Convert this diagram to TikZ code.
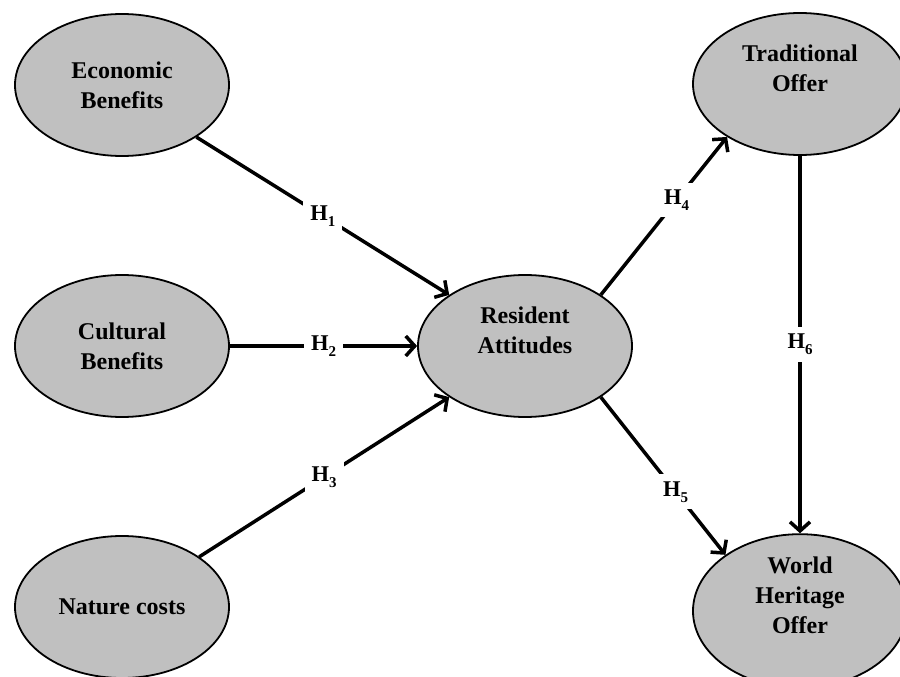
\documentclass[tikz,border=0pt]{standalone}
\usepackage{fontspec}
\setmainfont{Liberation Serif}
\usetikzlibrary{arrows.meta,shapes.geometric}
\definecolor{latent}{RGB}{192,192,192}
\newcommand\hsub[1]{\raisebox{-6pt}{\fontsize{15}{15}\selectfont#1}}

\begin{document}
\begin{tikzpicture}[x=1pt,y=-1pt,
    construct/.style={ellipse,draw,line width=1.8pt,fill=latent,
      minimum width=214pt,minimum height=142pt,inner sep=0pt,align=center,
      font=\fontsize{24}{30}\selectfont\bfseries},
    lifted/.style={text depth=32pt},
    hyp/.style={line width=3.5pt,-{Straight Barb[length=9pt,width=20pt]}},
    hlabel/.style={fill=white,inner sep=7pt,
      font=\fontsize{22.5}{26}\selectfont\bfseries}]

    \useasboundingbox (0,0) rectangle (900,677);

    % Konstrukte
    \node[construct] (eco)  at (122,85)  {Economic\\Benefits};
    \node[construct] (cul)  at (122,346) {Cultural\\Benefits};
    \node[construct] (nat)  at (122,607) {Nature costs};
    \node[construct,lifted] (res)  at (525,346) {Resident\\Attitudes};
    \node[construct,lifted] (trad) at (800,84)  {Traditional\\Offer};
    \node[construct,lifted] (whs)  at (800,611) {World\\Heritage\\Offer};

    % Hypothesen H1..H6
    \draw[hyp] (eco.-35) -- node[hlabel] {H\hsub{1}} (res.146);
    \draw[hyp] (cul) -- node[hlabel] {H\hsub{2}} (res);
    \draw[hyp] (nat.33) -- node[hlabel] {H\hsub{3}} (res.214);
    \draw[hyp] (res.34) -- node[hlabel,pos=0.6] {H\hsub{4}} (trad.216);
    \draw[hyp] (res.-34) -- node[hlabel,pos=0.6] {H\hsub{5}} (whs.143);
    \draw[hyp] (trad) -- node[hlabel] {H\hsub{6}} (whs);
\end{tikzpicture}
\end{document}
